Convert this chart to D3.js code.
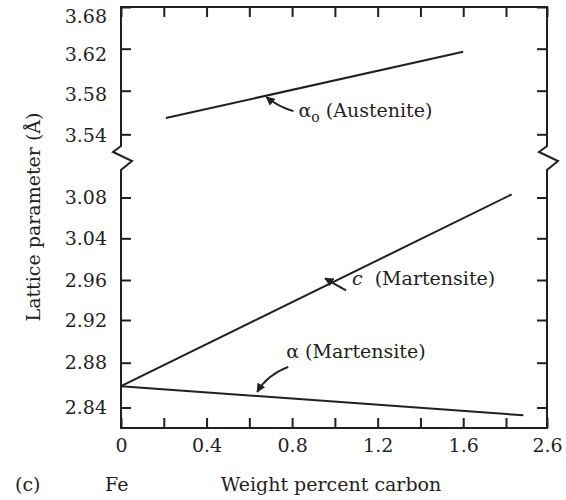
<!DOCTYPE html>
<html>
<head>
<meta charset="utf-8">
<script src="https://cdn.jsdelivr.net/npm/d3@7"></script>
<style>
  body { margin: 0; background: #fff; }
  text { font-family: "DejaVu Serif", serif; fill: #231f20; }
</style>
</head>
<body>
<div id="chart-area"></div>
<script>
// ticks as printed on the figure (the axes are broken / unevenly labelled)
var xTicks = [0, 0.2, 0.4, 0.6, 0.8, 1.0, 1.2, 1.4, 1.6, 1.8, 2.6];
var xTickLabels = ["0", "0.4", "0.8", "1.2", "1.6", "2.6"];
var yUpperTicks = [3.54, 3.58, 3.62, 3.68];
var yLowerTicks = [2.84, 2.88, 2.92, 2.96, 3.04, 3.08];

// series: [weight percent carbon, lattice parameter (Å)]
var austenite = [[0.21, 3.555], [1.60, 3.617]];
var martensiteC = [[0, 2.859], [1.91, 3.083]];
var martensiteA = [[0, 2.859], [2.14, 2.833]];

var margin = { left: 121, right: 19, top: 7, bottom: 72 };
var width = 566 - margin.left - margin.right,
  height = 500 - margin.top - margin.bottom;

var ink = "#231f20";

var svg = d3.select("#chart-area")
  .append("svg")
  .attr("width", 566)
  .attr("height", 500);

var g = svg.append("g")
  .attr("transform", "translate(" + margin.left + "," + margin.top + ")");

// X scale (last interval 1.8 -> 2.6 is compressed on the figure)
var x = d3.scaleLinear().domain([0, 1.8, 2.6]).range([0, 385, width]);

// Y scales, one for each side of the break
var yUp = d3.scaleLinear()
  .domain(yUpperTicks)
  .range([127.3, 83.7, 41.7, 0]);
var yLow = d3.scaleLinear()
  .domain(yLowerTicks)
  .range([400.5, 355.7, 313, 273, 231.3, 190.5]);

var breakTop = 139, breakBot = 163;

// X axes
var fmt = d3.format("~g");
g.append("g")
  .attr("class", "x axis")
  .attr("transform", "translate(0," + height + ")")
  .call(d3.axisBottom(x).tickValues(xTicks).tickSizeInner(-10).tickSizeOuter(0)
    .tickPadding(11)
    .tickFormat(function(d) {
      return xTickLabels.indexOf(fmt(d)) >= 0 ? fmt(d) : "";
    }));

g.append("g")
  .attr("class", "x axis top")
  .call(d3.axisTop(x).tickValues(xTicks).tickSizeInner(-10).tickSizeOuter(0)
    .tickFormat(""));

// Y axes (left with labels, right without)
var upperNudge = [1.4, 3.8, 5.3, 9.7];
g.append("g")
  .attr("class", "y axis upper")
  .call(d3.axisLeft(yUp).tickValues(yUpperTicks).tickSizeInner(-10).tickSizeOuter(0)
    .tickPadding(14).tickFormat(d3.format(".2f")))
  .selectAll("text")
  .attr("y", function(d, i) { return upperNudge[i]; });

g.append("g")
  .attr("class", "y axis lower")
  .call(d3.axisLeft(yLow).tickValues(yLowerTicks).tickSizeInner(-10).tickSizeOuter(0)
    .tickPadding(14).tickFormat(d3.format(".2f")));

g.append("g")
  .attr("transform", "translate(" + width + ",0)")
  .call(d3.axisRight(yUp).tickValues(yUpperTicks).tickSizeInner(-10).tickSizeOuter(0)
    .tickFormat(""));

g.append("g")
  .attr("transform", "translate(" + width + ",0)")
  .call(d3.axisRight(yLow).tickValues(yLowerTicks).tickSizeInner(-10).tickSizeOuter(0)
    .tickFormat(""));

g.selectAll(".domain").remove();
g.selectAll(".tick line").attr("stroke", ink).attr("stroke-width", 2);
g.selectAll(".tick text")
  .attr("font-family", "DejaVu Serif")
  .attr("font-size", "19px")
  .attr("fill", ink);

// frame with zig-zag breaks on both sides
function sideWithBreak(x0) {
  return [
    [x0, 0], [x0, breakTop], [x0 - 8, breakTop + 6],
    [x0 + 11, breakTop + 15], [x0, breakBot], [x0, height]
  ];
}
var frameLine = d3.line();
g.append("path")
  .attr("d", frameLine(sideWithBreak(0)))
  .attr("fill", "none").attr("stroke", ink).attr("stroke-width", 2)
  .attr("stroke-linejoin", "miter");
g.append("path")
  .attr("d", frameLine(sideWithBreak(width)))
  .attr("fill", "none").attr("stroke", ink).attr("stroke-width", 2);
g.append("path")
  .attr("d", frameLine([[-1, 0], [width + 1, 0]]))
  .attr("stroke", ink).attr("stroke-width", 2);
g.append("path")
  .attr("d", frameLine([[-1, height], [width + 1, height]]))
  .attr("stroke", ink).attr("stroke-width", 2);

// data lines
var lineUp = d3.line()
  .x(function(d) { return x(d[0]); })
  .y(function(d) { return yUp(d[1]); });
var lineLow = d3.line()
  .x(function(d) { return x(d[0]); })
  .y(function(d) { return yLow(d[1]); });

g.append("path").attr("d", lineUp(austenite))
  .attr("fill", "none").attr("stroke", ink).attr("stroke-width", 2);
g.append("path").attr("d", lineLow(martensiteC))
  .attr("fill", "none").attr("stroke", ink).attr("stroke-width", 2);
g.append("path").attr("d", lineLow(martensiteA))
  .attr("fill", "none").attr("stroke", ink).attr("stroke-width", 2);

// arrowhead marker
svg.append("defs").append("marker")
  .attr("id", "head")
  .attr("viewBox", "0 0 10 10")
  .attr("refX", 9).attr("refY", 5)
  .attr("markerWidth", 4.5).attr("markerHeight", 4.5)
  .attr("orient", "auto")
  .append("path")
  .attr("d", "M0,0L10,5L0,10z")
  .attr("fill", ink);

// value of a two-point series at a given x
function valueAt(series, xv) {
  var a = series[0], b = series[1];
  return a[1] + (b[1] - a[1]) * (xv - a[0]) / (b[0] - a[0]);
}

function arrow(tip, ctrl, tail) {
  var p = d3.path();
  p.moveTo(tail[0], tail[1]);
  p.quadraticCurveTo(ctrl[0], ctrl[1], tip[0], tip[1]);
  g.append("path")
    .attr("d", p.toString())
    .attr("fill", "none").attr("stroke", ink).attr("stroke-width", 2)
    .attr("marker-end", "url(#head)");
}

// α0 (Austenite)
var ax = 0.68;
var tA = [x(ax), yUp(valueAt(austenite, ax)) + 2];
arrow(tA, [tA[0] + 12, tA[1] + 10], [tA[0] + 27, tA[1] + 14]);
var lblA = g.append("text")
  .attr("x", tA[0] + 32).attr("y", tA[1] + 20)
  .attr("font-size", "19px");
lblA.append("tspan").text("α");
lblA.append("tspan").attr("font-size", "14px").attr("dy", 5).text("o");
lblA.append("tspan").attr("dy", -5).text(" (Austenite)");

// c (Martensite)
var cx = 0.954;
var tC = [x(cx), yLow(valueAt(martensiteC, cx)) + 4];
arrow(tC, [tC[0] + 10, tC[1] + 6], [tC[0] + 21, tC[1] + 12]);
var lblC = g.append("text")
  .attr("x", tC[0] + 27).attr("y", tC[1] + 7)
  .attr("font-size", "19px");
lblC.append("tspan").attr("font-style", "italic").text("c");
lblC.append("tspan").attr("dx", 12).text("(Martensite)");

// α (Martensite)
var mx = 0.637;
var tM = [x(mx), yLow(valueAt(martensiteA, mx)) - 3];
arrow(tM, [tM[0] + 10, tM[1] - 17], [tM[0] + 31, tM[1] - 25]);
g.append("text")
  .attr("x", tM[0] + 29).attr("y", tM[1] - 34)
  .attr("font-size", "19px")
  .text("α (Martensite)");

// axis titles and panel labels
g.append("text")
  .attr("transform", "rotate(-90)")
  .attr("x", -210).attr("y", -81)
  .attr("text-anchor", "middle")
  .attr("font-size", "19px")
  .text("Lattice parameter (Å)");

g.append("text")
  .attr("x", 210).attr("y", height + 63)
  .attr("text-anchor", "middle")
  .attr("font-size", "19px")
  .text("Weight percent carbon");

g.append("text")
  .attr("x", -106).attr("y", height + 63)
  .attr("font-size", "19px")
  .text("(c)");

g.append("text")
  .attr("x", -16).attr("y", height + 63)
  .attr("font-size", "19px")
  .text("Fe");
</script>
</body>
</html>
